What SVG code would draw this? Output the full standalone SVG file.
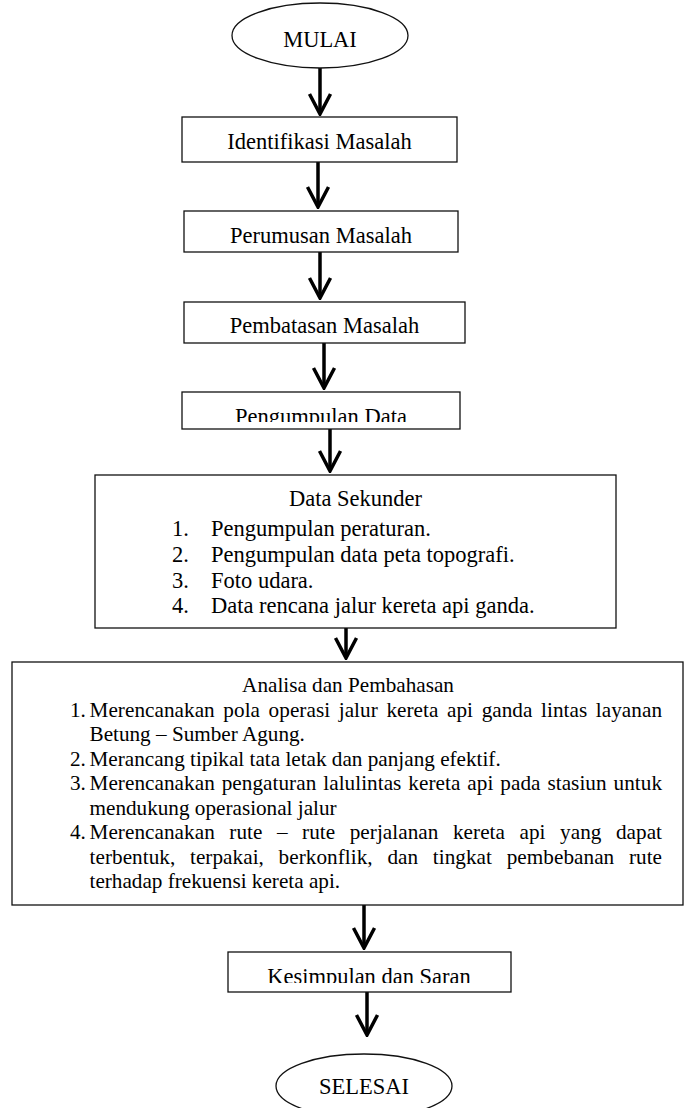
<svg xmlns="http://www.w3.org/2000/svg" width="684" height="1108" viewBox="0 0 684 1108">
<style>
  .box { fill: #fff; stroke: #111; stroke-width: 1.3; }
  .t { font-family: "Liberation Serif", "Times New Roman", serif; font-size: 22.5px; fill: #000; }
  .tc { text-anchor: middle; }
  .ts { font-family: "Liberation Serif", "Times New Roman", serif; font-size: 21.2px; fill: #000; }
  .conn { stroke: #000; stroke-width: 3.5; fill: none; }
</style>
<defs>
  <marker id="chev" viewBox="-24 -13 26 26" refX="0" refY="0" markerWidth="26" markerHeight="26" markerUnits="userSpaceOnUse" orient="auto">
    <path d="M-20,-10.5 L0,0 L-20,10.5" fill="none" stroke="#000" stroke-width="3.5" stroke-linejoin="miter"/>
  </marker>
  <clipPath id="clipPD"><rect x="182" y="392" width="278" height="30"/></clipPath>
  <clipPath id="clipKS"><rect x="228" y="952" width="283" height="31"/></clipPath>
</defs>
<rect width="684" height="1108" fill="#fff"/>

<g id="connectors">
  <line class="conn" x1="320" y1="68" x2="320" y2="114" marker-end="url(#chev)"/>
  <line class="conn" x1="318" y1="162" x2="318" y2="207" marker-end="url(#chev)"/>
  <line class="conn" x1="320" y1="252" x2="320" y2="298" marker-end="url(#chev)"/>
  <line class="conn" x1="324" y1="343" x2="324" y2="388" marker-end="url(#chev)"/>
  <line class="conn" x1="330" y1="429" x2="330" y2="471" marker-end="url(#chev)"/>
  <line class="conn" x1="346" y1="628" x2="346" y2="658" marker-end="url(#chev)"/>
  <line class="conn" x1="364" y1="905" x2="364" y2="948" marker-end="url(#chev)"/>
  <line class="conn" x1="367" y1="992" x2="367" y2="1035" marker-end="url(#chev)"/>
</g>

<g id="mulai">
  <ellipse class="box" cx="320" cy="35.5" rx="88" ry="32.5"/>
  <text class="t tc" x="320" y="47">MULAI</text>
</g>

<g id="identifikasi">
  <rect class="box" x="182" y="117" width="275" height="45"/>
  <text class="t tc" x="319.5" y="149">Identifikasi Masalah</text>
</g>

<g id="perumusan">
  <rect class="box" x="184" y="211" width="274" height="41"/>
  <text class="t tc" x="321" y="243">Perumusan Masalah</text>
</g>

<g id="pembatasan">
  <rect class="box" x="184" y="302" width="281" height="41"/>
  <text class="t tc" x="324.5" y="333">Pembatasan Masalah</text>
</g>

<g id="pengumpulan">
  <rect class="box" x="182" y="392" width="278" height="37"/>
  <text class="t tc" x="321" y="424" clip-path="url(#clipPD)">Pengumpulan Data</text>
</g>

<g id="data-sekunder">
  <rect class="box" x="95" y="475" width="521" height="153"/>
  <text class="t tc" x="355.5" y="506">Data Sekunder</text>
  <text class="t" x="172" y="536">1.</text>
  <text class="t" x="211" y="536">Pengumpulan peraturan.</text>
  <text class="t" x="172" y="562">2.</text>
  <text class="t" x="211" y="562">Pengumpulan data peta topografi.</text>
  <text class="t" x="172" y="587.5">3.</text>
  <text class="t" x="211" y="587.5">Foto udara.</text>
  <text class="t" x="172" y="613">4.</text>
  <text class="t" x="211" y="613">Data rencana jalur kereta api ganda.</text>
</g>

<g id="analisa">
  <rect class="box" x="12" y="662" width="671" height="243"/>
  <text class="ts tc" x="348" y="692">Analisa dan Pembahasan</text>
  <text class="ts" x="70" y="716.5">1.</text>
  <text class="ts" x="89.5" y="716.5" word-spacing="3.25" textLength="572.5" lengthAdjust="spacing">Merencanakan pola operasi jalur kereta api ganda lintas layanan</text>
  <text class="ts" x="89.5" y="741">Betung – Sumber Agung.</text>
  <text class="ts" x="70" y="765.5">2.</text>
  <text class="ts" x="89.5" y="765.5">Merancang tipikal tata letak dan panjang efektif.</text>
  <text class="ts" x="70" y="790">3.</text>
  <text class="ts" x="89.5" y="790" word-spacing="1.59" textLength="572.5" lengthAdjust="spacing">Merencanakan pengaturan lalulintas kereta api pada stasiun untuk</text>
  <text class="ts" x="89.5" y="814.5">mendukung operasional jalur</text>
  <text class="ts" x="70" y="839">4.</text>
  <text class="ts" x="89.5" y="839" word-spacing="9.16" textLength="572.5" lengthAdjust="spacing">Merencanakan rute – rute perjalanan kereta api yang dapat</text>
  <text class="ts" x="89.5" y="863.5" word-spacing="9.34" textLength="572.5" lengthAdjust="spacing">terbentuk, terpakai, berkonflik, dan tingkat pembebanan rute</text>
  <text class="ts" x="89.5" y="888">terhadap frekuensi kereta api.</text>
</g>

<g id="kesimpulan">
  <rect class="box" x="228" y="952" width="283" height="40"/>
  <text class="t tc" x="369" y="984" clip-path="url(#clipKS)">Kesimpulan dan Saran</text>
</g>

<g id="selesai">
  <ellipse class="box" cx="364" cy="1086" rx="88" ry="32"/>
  <text class="t tc" x="364" y="1094">SELESAI</text>
</g>
</svg>
